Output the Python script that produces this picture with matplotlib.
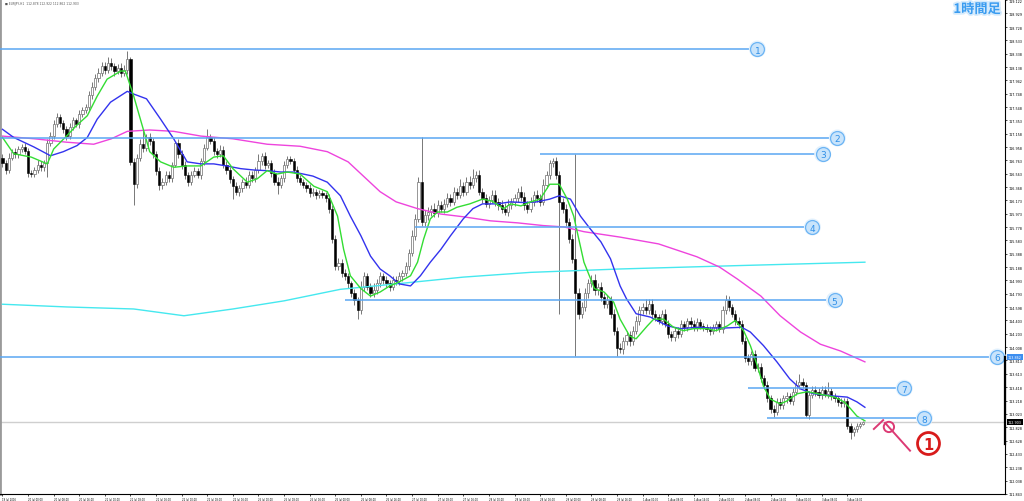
import matplotlib
matplotlib.use("Agg")
import matplotlib.pyplot as plt
import matplotlib.patheffects as pe
import numpy as np

# ---------------- data ----------------
first_open = 116.80
closes = [
    116.72, 116.62, 116.80, 116.88, 116.85, 116.93, 116.96, 116.90, 116.58, 116.56,
    116.62, 116.70, 116.66, 116.72, 117.02, 117.12, 117.30, 117.40, 117.32, 117.22,
    117.12, 117.25, 117.35, 117.30, 117.45, 117.50, 117.55, 117.72, 117.85, 117.98,
    118.05, 118.15, 118.10, 118.20, 118.15, 118.08, 118.12, 118.05, 118.10, 118.25,
    116.74, 116.41, 116.80, 117.00, 116.95, 117.10, 117.05, 116.85, 116.60, 116.40,
    116.45, 116.55, 116.50, 116.70, 117.02, 116.85, 116.70, 116.55, 116.45, 116.55,
    116.60, 116.55, 116.75, 116.95, 117.10, 117.05, 116.90, 116.85, 116.92, 116.70,
    116.62, 116.48, 116.38, 116.30, 116.35, 116.45, 116.40, 116.55, 116.50, 116.62,
    116.75, 116.82, 116.70, 116.72, 116.58, 116.45, 116.40, 116.50, 116.70, 116.78,
    116.75, 116.62, 116.50, 116.45, 116.40, 116.35, 116.28, 116.30, 116.25, 116.28,
    116.25, 116.20, 116.05, 115.60, 115.20, 115.25, 115.10, 115.05, 114.95, 114.80,
    114.70, 114.55, 114.90, 115.05, 114.90, 114.80, 114.85, 114.95, 115.05, 115.00,
    114.95, 114.90, 115.00, 114.98, 115.05, 115.10, 115.20, 115.40, 115.65, 115.90,
    116.45, 115.85, 115.95, 116.00, 116.05, 115.98, 116.10, 116.05, 116.12, 116.20,
    116.15, 116.30, 116.25, 116.38, 116.30, 116.45, 116.40, 116.50, 116.55, 116.30,
    116.20, 116.12, 116.18, 116.25, 116.15, 116.10, 116.05, 116.00, 116.10, 116.15,
    116.20, 116.30, 116.22, 116.10, 116.05, 116.15, 116.25, 116.20, 116.15, 116.40,
    116.55, 116.72, 116.75, 116.55, 116.15, 116.05, 115.85, 115.60, 115.30, 114.80,
    114.50, 114.60, 114.80, 114.95, 115.00, 114.85, 114.90, 114.75, 114.65, 114.70,
    114.50, 114.25, 114.00, 113.98, 114.10, 114.18, 114.10, 114.25, 114.40, 114.55,
    114.60, 114.55, 114.65, 114.50, 114.45, 114.40, 114.50, 114.35, 114.20, 114.15,
    114.25, 114.20, 114.35, 114.30, 114.40, 114.35, 114.30, 114.38, 114.32, 114.30,
    114.28, 114.25, 114.30, 114.35, 114.28, 114.55, 114.70, 114.60, 114.50, 114.40,
    114.35, 114.10, 113.85, 113.80, 113.90, 113.70, 113.72, 113.55, 113.45, 113.25,
    113.10, 113.05, 113.20, 113.15, 113.25, 113.28, 113.22, 113.35, 113.45, 113.50,
    113.45, 113.00, 113.30, 113.38, 113.35, 113.30, 113.38, 113.32, 113.36, 113.28,
    113.25, 113.20, 113.18, 113.22, 112.85, 112.75, 112.80, 112.85, 112.878, 112.903,
]
upper_wicks = [
    0.06, 0.05, 0.07, 0.05, 0.06, 0.04, 0.05, 0.06, 0.05, 0.04,
    0.05, 0.06, 0.05, 0.04, 0.05, 0.06, 0.05, 0.06, 0.05, 0.04,
    0.05, 0.06, 0.05, 0.04, 0.06, 0.05, 0.05, 0.06, 0.07, 0.06,
    0.08, 0.07, 0.06, 0.08, 0.07, 0.05, 0.06, 0.08, 0.07, 0.12,
    0.03, 0.05, 0.06, 0.07, 0.22, 0.05, 0.06, 0.04, 0.05, 0.06,
    0.05, 0.06, 0.05, 0.04, 0.03, 0.05, 0.06, 0.05, 0.04, 0.05,
    0.06, 0.05, 0.04, 0.06, 0.12, 0.05, 0.06, 0.05, 0.07, 0.05,
    0.05, 0.04, 0.05, 0.06, 0.05, 0.04, 0.06, 0.05, 0.06, 0.05,
    0.11, 0.05, 0.06, 0.05, 0.04, 0.05, 0.06, 0.05, 0.05, 0.05,
    0.04, 0.05, 0.06, 0.05, 0.04, 0.05, 0.06, 0.05, 0.04, 0.05,
    0.05, 0.04, 0.06, 0.05, 0.06, 0.07, 0.05, 0.06, 0.05, 0.04,
    0.06, 0.05, 0.08, 0.07, 0.05, 0.06, 0.10, 0.06, 0.07, 0.05,
    0.06, 0.05, 0.06, 0.05, 0.06, 0.05, 0.07, 0.06, 0.08, 0.07,
    0.06, 0.65, 0.08, 0.07, 0.06, 0.08, 0.07, 0.06, 0.07, 0.08,
    0.06, 0.07, 0.06, 0.10, 0.07, 0.06, 0.08, 0.14, 0.06, 0.07,
    0.06, 0.07, 0.06, 0.08, 0.07, 0.06, 0.07, 0.08, 0.09, 0.06,
    0.07, 0.06, 0.08, 0.07, 0.06, 0.07, 0.06, 0.07, 0.06, 0.08,
    0.06, 0.05, 0.04, 0.06, 0.05, 0.06, 0.07, 0.06, 0.08, 1.56,
    0.08, 0.07, 0.08, 0.06, 0.07, 0.08, 0.06, 0.07, 0.06, 0.08,
    0.06, 0.07, 0.06, 0.07, 0.06, 0.07, 0.06, 0.07, 0.06, 0.07,
    0.06, 0.12, 0.06, 0.07, 0.06, 0.05, 0.06, 0.07, 0.06, 0.05,
    0.06, 0.05, 0.06, 0.05, 0.04, 0.05, 0.06, 0.05, 0.04, 0.05,
    0.05, 0.04, 0.05, 0.04, 0.05, 0.06, 0.08, 0.06, 0.05, 0.06,
    0.05, 0.06, 0.05, 0.06, 0.05, 0.06, 0.05, 0.06, 0.05, 0.06,
    0.05, 0.06, 0.05, 0.06, 0.05, 0.06, 0.05, 0.06, 0.07, 0.11,
    0.05, 0.04, 0.06, 0.05, 0.06, 0.05, 0.06, 0.05, 0.13, 0.05,
    0.05, 0.04, 0.05, 0.04, 0.03, 0.04, 0.03, 0.04, 0.03, 0.019,
]
lower_wicks = [
    0.05, 0.06, 0.05, 0.04, 0.06, 0.05, 0.04, 0.05, 0.06, 0.05,
    0.04, 0.05, 0.06, 0.05, 0.20, 0.05, 0.04, 0.05, 0.06, 0.05,
    0.06, 0.05, 0.04, 0.05, 0.06, 0.05, 0.04, 0.05, 0.06, 0.05,
    0.06, 0.05, 0.06, 0.05, 0.06, 0.07, 0.05, 0.06, 0.05, 0.06,
    0.05, 0.31, 0.06, 0.05, 0.06, 0.05, 0.06, 0.05, 0.06, 0.07,
    0.06, 0.05, 0.06, 0.05, 0.04, 0.05, 0.06, 0.07, 0.06, 0.05,
    0.04, 0.05, 0.06, 0.05, 0.04, 0.05, 0.06, 0.05, 0.04, 0.05,
    0.06, 0.05, 0.19, 0.05, 0.06, 0.05, 0.04, 0.05, 0.06, 0.05,
    0.04, 0.05, 0.06, 0.05, 0.06, 0.05, 0.13, 0.05, 0.06, 0.05,
    0.04, 0.05, 0.06, 0.05, 0.04, 0.05, 0.06, 0.05, 0.06, 0.05,
    0.04, 0.05, 0.06, 0.05, 0.06, 0.05, 0.06, 0.05, 0.07, 0.06,
    0.07, 0.13, 0.05, 0.06, 0.05, 0.06, 0.05, 0.06, 0.05, 0.06,
    0.05, 0.06, 0.05, 0.06, 0.05, 0.06, 0.05, 0.06, 0.05, 0.06,
    0.05, 0.05, 0.06, 0.07, 0.06, 0.05, 0.06, 0.05, 0.06, 0.05,
    0.06, 0.05, 0.06, 0.05, 0.06, 0.05, 0.06, 0.05, 0.06, 0.05,
    0.06, 0.05, 0.06, 0.05, 0.06, 0.07, 0.06, 0.05, 0.06, 0.05,
    0.06, 0.05, 0.06, 0.07, 0.06, 0.05, 0.06, 0.05, 0.06, 0.05,
    0.05, 0.06, 0.05, 0.06, 1.65, 0.06, 0.05, 0.06, 0.05, 0.92,
    0.08, 0.07, 0.06, 0.07, 0.06, 0.08, 0.07, 0.06, 0.07, 0.06,
    0.06, 0.07, 0.13, 0.06, 0.07, 0.06, 0.07, 0.06, 0.05, 0.06,
    0.06, 0.05, 0.06, 0.07, 0.06, 0.05, 0.06, 0.05, 0.06, 0.05,
    0.05, 0.06, 0.05, 0.06, 0.05, 0.06, 0.05, 0.06, 0.05, 0.06,
    0.05, 0.06, 0.05, 0.06, 0.05, 0.06, 0.05, 0.06, 0.05, 0.06,
    0.06, 0.05, 0.06, 0.05, 0.06, 0.05, 0.06, 0.05, 0.06, 0.05,
    0.06, 0.07, 0.05, 0.06, 0.05, 0.06, 0.05, 0.06, 0.05, 0.06,
    0.05, 0.03, 0.06, 0.05, 0.06, 0.05, 0.06, 0.05, 0.06, 0.05,
    0.05, 0.06, 0.05, 0.06, 0.05, 0.10, 0.05, 0.04, 0.03, 0.016,
]

green_x = [0, 3.5, 9, 14, 16, 20, 23, 26.5, 29.6, 32.7, 37, 38.4, 41, 44, 46, 49.4, 53.5, 57.7, 62, 66, 69, 72,
           76.5, 79.6, 82.7, 85.8, 89, 93, 97.3, 101.5, 104.7, 106.6, 108.7, 112, 115, 118, 121, 124, 127.5,
           129.7, 131.6, 133.7, 135.9, 139, 142, 146, 150, 153, 156.6, 158.8, 162, 165, 168, 171, 174, 176.5,
           178.5, 181.7, 185, 188, 191, 193, 196, 198, 201.5, 203.5, 206.6, 209.7, 212.8, 216, 220, 223, 226.5,
           229, 231.6, 233.7, 235.9, 237.8, 240, 243, 245, 248.4, 251.5, 254.7, 260, 263, 265, 267, 269.5]
green_y = [117.10, 116.86, 116.81, 116.71, 116.93, 117.12, 117.27, 117.42, 117.71, 117.96, 118.08, 118.08, 117.71,
           117.22, 116.89, 116.74, 116.66, 116.68, 116.68, 116.81, 116.83, 116.64, 116.44, 116.49, 116.61, 116.56,
           116.59, 116.56, 116.38, 116.30, 115.94, 115.45, 115.06, 114.87, 114.76, 114.82, 114.91, 114.97, 115.06,
           115.26, 115.60, 115.90, 116.00, 116.00, 116.07, 116.12, 116.19, 116.16, 116.05, 116.12, 116.09, 116.15,
           116.19, 116.41, 116.41, 116.19, 115.94, 115.26, 114.87, 114.82, 114.67, 114.42, 114.17, 114.13, 114.32,
           114.42, 114.42, 114.30, 114.25, 114.28, 114.28, 114.25, 114.32, 114.40, 114.25, 114.03, 113.73, 113.43,
           113.24, 113.17, 113.21, 113.32, 113.35, 113.32, 113.27, 113.20, 113.10, 112.99, 112.92]

blue_x = [0, 3.5, 9.8, 15, 19, 23.3, 26.5, 29.6, 33.75, 39, 41, 45, 49.4, 53.5, 57.7, 62, 66, 70, 74.4, 78.5, 82.7,
          87, 91, 97, 101.5, 105.6, 108.7, 112, 115, 118, 121, 124, 127.5, 130.6, 133.7, 137, 140, 144, 147, 150,
          154.6, 158.8, 162.8, 167, 171, 174, 177.5, 180.6, 183.7, 187, 190, 193, 195, 198, 202.5, 207.8, 211.9,
          217, 221, 226, 231, 233.7, 237.8, 242, 246, 249.4, 253.4, 258.8, 264, 267, 269.5]
blue_y = [117.22, 117.10, 116.96, 116.83, 116.89, 116.98, 117.10, 117.37, 117.62, 117.78, 117.74, 117.67, 117.37,
          117.08, 116.74, 116.71, 116.71, 116.68, 116.64, 116.62, 116.61, 116.59, 116.59, 116.53, 116.44, 116.24,
          115.94, 115.65, 115.35, 115.16, 115.06, 114.94, 114.91, 115.06, 115.26, 115.45, 115.65, 115.90, 116.05,
          116.12, 116.12, 116.15, 116.14, 116.15, 116.19, 116.24, 116.19, 115.94, 115.75, 115.56, 115.31, 114.91,
          114.72, 114.50, 114.45, 114.32, 114.28, 114.30, 114.29, 114.29, 114.30, 114.23, 114.03, 113.79, 113.54,
          113.39, 113.32, 113.29, 113.27, 113.20, 113.12]

pink_x = [0, 10, 20, 28.5, 34, 39, 46, 53.5, 62, 72, 82.7, 93, 101.5, 108, 113, 118, 123, 129.7, 137, 144, 152.5,
          161, 169, 175.5, 181.7, 193, 205, 217, 224, 229.7, 237, 243, 249.4, 255.6, 261.9, 269.5]
pink_y = [117.12, 117.08, 117.03, 117.00, 117.08, 117.19, 117.21, 117.19, 117.12, 117.08, 117.00, 116.97, 116.89,
          116.74, 116.52, 116.30, 116.15, 116.05, 115.97, 115.93, 115.87, 115.84, 115.80, 115.78, 115.71, 115.63,
          115.53, 115.34, 115.19, 115.01, 114.76, 114.47, 114.23, 114.05, 113.95, 113.79]

cyan_x = [0, 20, 41, 56.7, 72, 88, 105.6, 123, 144, 165, 193, 230, 269.5]
cyan_y = [114.64, 114.60, 114.57, 114.47, 114.57, 114.69, 114.86, 114.94, 115.04, 115.11, 115.16, 115.21, 115.26]

level_labels = ["1", "2", "3", "4", "5", "6", "7", "8"]
level_prices = [118.404, 117.092, 116.856, 115.779, 114.700, 113.862, 113.400, 112.960]
level_start = [-1, -1, 168, 129, 107, -1, 233, 239]
level_end = [233.6, 258.6, 254.0, 250.8, 257.7, 308.6, 279.5, 285.8]

current_price = 112.903
axis_box_price = 113.862

ytick_values = [119.122, 118.929, 118.728, 118.533, 118.338, 118.138, 117.942, 117.748, 117.548, 117.353,
                117.158, 116.958, 116.763, 116.563, 116.368, 116.173, 115.973, 115.778, 115.583, 115.388,
                115.188, 114.993, 114.793, 114.598, 114.403, 114.203, 114.008, 113.813, 113.613, 113.418,
                113.218, 113.023, 112.828, 112.628, 112.433, 112.238, 112.038, 111.843]

xtick_labels = ["19 Jul 2016", "20 Jul 00:00", "20 Jul 08:00", "20 Jul 16:00", "21 Jul 00:00", "21 Jul 08:00",
                "21 Jul 16:00", "22 Jul 00:00", "22 Jul 08:00", "22 Jul 16:00", "25 Jul 00:00", "25 Jul 08:00",
                "25 Jul 16:00", "26 Jul 00:00", "26 Jul 08:00", "26 Jul 16:00", "27 Jul 00:00", "27 Jul 08:00",
                "27 Jul 16:00", "28 Jul 00:00", "28 Jul 08:00", "28 Jul 16:00", "29 Jul 00:00", "29 Jul 08:00",
                "29 Jul 16:00", "1 Aug 00:00", "1 Aug 08:00", "1 Aug 16:00", "2 Aug 00:00", "2 Aug 08:00",
                "2 Aug 16:00", "3 Aug 00:00", "3 Aug 08:00", "3 Aug 16:00"]
bars_per_label = 8

header = "EURJPY,H1  112.878 112.922 112.862 112.903"
title_jp = "1時間足"

# ---------------- figure ----------------
fig = plt.figure(figsize=(10.24, 5.02), dpi=100)
fig.patch.set_facecolor("white")
ax = fig.add_axes([0.0, 7 / 502, 1005 / 1024, 495 / 502])
ax.set_facecolor("white")

n = len(closes)
idx = np.arange(n)
c = np.array(closes)
o = np.concatenate([[first_open], c[:-1]])
hi = np.maximum(o, c) + np.array(upper_wicks)
lo = np.minimum(o, c) - np.array(lower_wicks)

# candles
ax.vlines(idx, lo, hi, color="#6e6e6e", lw=0.65, zorder=2)
up = c >= o
body_bottom = np.minimum(o, c)
body_h = np.maximum(np.abs(c - o), 0.012)
ax.bar(idx[up], body_h[up], bottom=body_bottom[up], width=0.72, facecolor="white",
       edgecolor="#7a7a7a", linewidth=0.55, zorder=3)
ax.bar(idx[~up], body_h[~up], bottom=body_bottom[~up], width=0.72, facecolor="black",
       edgecolor="black", linewidth=0.4, zorder=3)

# moving averages
ax.plot(cyan_x, cyan_y, color="#45e8ef", lw=1.0, zorder=4)
ax.plot(pink_x, pink_y, color="#ee44dd", lw=1.0, zorder=4)
ax.plot(blue_x, blue_y, color="#3333ee", lw=1.0, zorder=5)
ax.plot(green_x, green_y, color="#33dd33", lw=1.0, zorder=5)

# current price line
ax.axhline(current_price, color="#cfcfcf", lw=1.0, zorder=1)

# horizontal levels
for lab, p, s, e in zip(level_labels, level_prices, level_start, level_end):
    ax.plot([s, e], [p, p], color="#5aa7f2", lw=1.1, zorder=6, solid_capstyle="butt", clip_on=False)
    cx = e + 2.3
    ax.scatter([cx], [p], s=150, facecolor="#e3f1fd", edgecolor="none", zorder=7, clip_on=False)
    ax.scatter([cx], [p], s=100, facecolor="#c9e4fb", edgecolor="#6cb4f4", linewidths=0.9, zorder=7,
               clip_on=False)
    ax.text(cx, p, lab, color="#2f8fe8", fontsize=6.5, ha="center", va="center_baseline", zorder=8,
            clip_on=False)

# hand-drawn annotation
ann = "#dc3a74"
ax.plot([272.3, 275.2], [112.80, 112.93], color=ann, lw=1.4, zorder=8)
ax.plot([275.8, 283.6], [112.89, 112.48], color=ann, lw=1.4, zorder=8)
ax.scatter([277.0], [112.83], s=55, facecolor="none", edgecolor=ann, linewidths=1.4, zorder=8)
# red circled 1
ax.scatter([289.2], [112.60], s=250, facecolor="white", edgecolor="#d81b1b", linewidths=2.0, zorder=8)
ax.text(289.2, 112.60, "1", color="#d81b1b", fontsize=10.5, fontweight="bold", ha="center",
        va="center_baseline", zorder=9)

# axes limits
ax.set_xlim(-0.78, 313.28)
ax.set_ylim(111.841, 119.142)

# spines
ax.spines["top"].set_visible(False)
ax.spines["left"].set_color("#9a9a9a")
ax.spines["left"].set_linewidth(2.0)
ax.spines["right"].set_color("black")
ax.spines["right"].set_linewidth(0.8)
ax.spines["bottom"].set_color("black")
ax.spines["bottom"].set_linewidth(0.8)

# y ticks on right
ax.yaxis.tick_right()
ax.set_yticks(ytick_values)
ax.set_yticklabels([f"{v:.3f}" for v in ytick_values])
ax.tick_params(axis="y", which="both", labelsize=2.4, length=1.5, width=0.5, pad=1.0, colors="black")

# x ticks
xt = [i * bars_per_label for i in range(len(xtick_labels))]
ax.set_xticks(xt)
ax.set_xticklabels(xtick_labels, ha="left")
ax.tick_params(axis="x", which="both", labelsize=1.8, length=1.5, width=0.5, pad=0.8, colors="black")

# price boxes on axis
ax.text(1.003, axis_box_price, f"{axis_box_price:.3f}", transform=ax.get_yaxis_transform(),
        fontsize=2.4, color="white", ha="left", va="center",
        bbox=dict(boxstyle="square,pad=0.25", facecolor="#3d8ef0", edgecolor="none"), clip_on=False, zorder=10)
ax.text(1.003, current_price, f"{current_price:.3f}", transform=ax.get_yaxis_transform(),
        fontsize=2.4, color="white", ha="left", va="center",
        bbox=dict(boxstyle="square,pad=0.25", facecolor="black", edgecolor="none"), clip_on=False, zorder=10)
ax.plot([1.0, 1.0], [112.58, 113.86], transform=ax.get_yaxis_transform(), color="black", lw=1.6,
        clip_on=False, zorder=9)

# header text
fig.text(5 / 1024, 1 - 1.5 / 502, "\u25a0 " + header, fontsize=2.2, color="#555555", ha="left", va="top")
fig.text(1001 / 1024, 1 - 3 / 502, title_jp, fontsize=9.5, fontweight="bold", color="#3a9cf0",
         ha="right", va="top", family=["Noto Sans CJK JP", "DejaVu Sans"],
         path_effects=[pe.withStroke(linewidth=2.5, foreground="#d6ebfc")])

fig.savefig("out.png", dpi=100, facecolor="white")
